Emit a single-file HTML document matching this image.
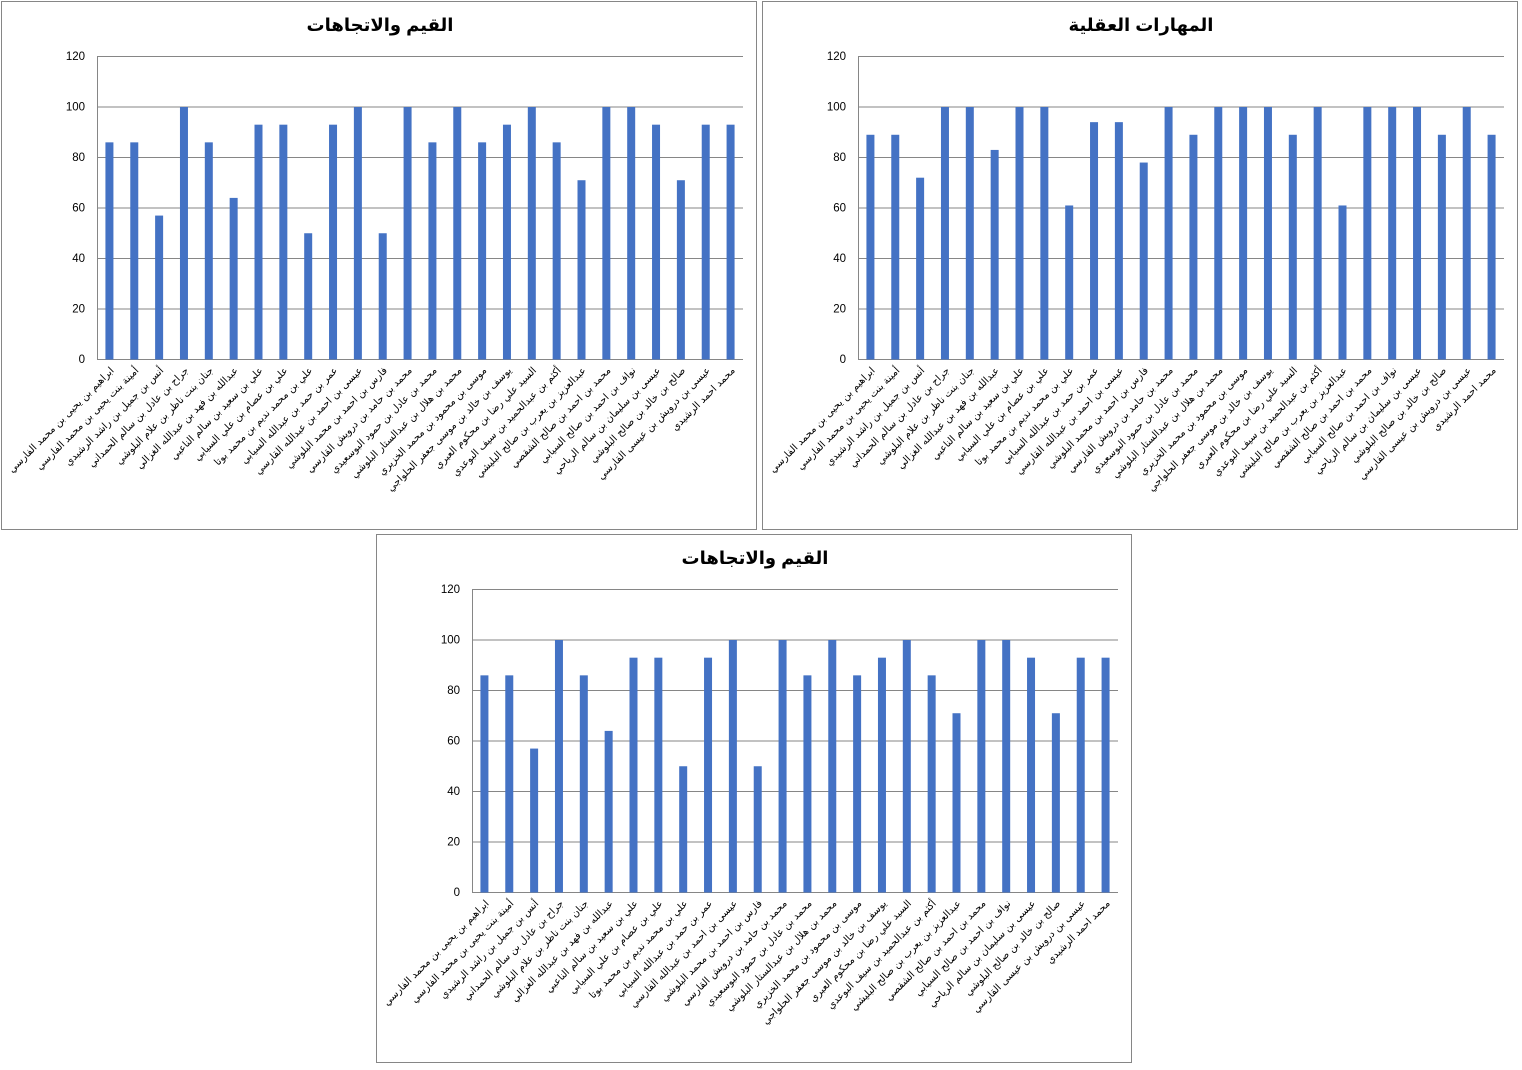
<!DOCTYPE html>
<html><head><meta charset="utf-8">
<style>
html,body{margin:0;padding:0;background:#fff;}
svg{display:block}
</style></head>
<body>
<svg id="s" width="1522" height="1070" xmlns="http://www.w3.org/2000/svg" font-family="'Liberation Sans', 'DejaVu Sans', sans-serif"></svg>
<script>
const names=["ابراهيم بن يحيى بن محمد الفارسي","أمينة بنت يحيى بن محمد الفارسي","أنس بن جميل بن راشد الرشيدي","جراح بن عادل بن سالم الحمداني","جنان بنت ناظر بن علام البلوشي","عبدالله بن فهد بن عبدالله الغزالي","علي بن سعيد بن سالم الناعبي","علي بن عصام بن علي السيابي","علي بن محمد نديم بن محمد بوتا","عمر بن حمد بن عبدالله السيابي","عيسى بن احمد بن عبدالله القارسي","فارس بن احمد بن محمد البلوشي","محمد بن حامد بن درويش القارسي","محمد بن عادل بن حمود البوسعيدي","محمد بن هلال بن عبدالستار البلوشي","موسى بن محمود بن محمد الخزيري","يوسف بن خالد بن موسى جعفر الحلواجي","السيد علي رضا بن محكوم العبري","أكثم بن عبدالحميد بن سيف البوعدي","عبدالعزيز بن يعرب بن صالح البليشي","محمد بن احمد بن صالح الشقصي","نواف بن احمد بن صالح السيابي","عيسى بن سليمان بن سالم الرياحي","صالح بن خالد بن صالح البلوشي","عيسى بن درويش بن عيسى القارسي","محمد احمد الرشيدي"];
const v1=[86,86,57,100,86,64,93,93,50,93,100,50,100,86,100,86,93,100,86,71,100,100,93,71,93,93];
const v2=[89,89,72,100,100,83,100,100,61,94,94,78,100,89,100,100,100,89,100,61,100,100,100,89,100,89];
let out="";
function chart(bx,by,title,vals){
  out+=`<rect x="${bx+0.5}" y="${by+0.5}" width="755" height="528" fill="#fff" stroke="#868686"/>`;
  out+=`<text x="${bx+379}" y="${by+30}" font-size="18" font-weight="bold" text-anchor="middle" font-family="'Liberation Sans','DejaVu Sans',sans-serif">${title}</text>`;
  const L=bx+96,R=bx+742,T=by+55,B=by+358;
  for(let i=0;i<=6;i++){
    const y=B-(B-T)*i/6;
    out+=`<line x1="${L}" x2="${R}" y1="${y+0.5}" y2="${y+0.5}" stroke="#868686"/>`;
    out+=`<text x="${bx+84}" y="${y+4}" font-size="11.5" text-anchor="end">${i*20}</text>`;
  }
  out+=`<line x1="${L+0.5}" x2="${L+0.5}" y1="${T}" y2="${B}" stroke="#868686"/>`;
  const step=(R-L)/26;
  vals.forEach((v,i)=>{
    const cx=L+step*(i+0.5);
    const h=(B-T)*v/120;
    out+=`<rect x="${cx-4}" y="${B-h+0.5}" width="8" height="${h}" fill="#4472C4"/>`;
    const tx=cx+5, ty=B+12;
    out+=`<text transform="translate(${tx},${ty}) rotate(-45)" x="0" y="0" font-size="10" direction="rtl" text-anchor="start" font-family="'DejaVu Sans',sans-serif">${names[i]}</text>`;
  });
}
chart(1,1,"القيم والاتجاهات",v1);
chart(762,1,"المهارات العقلية",v2);
chart(376,534,"القيم والاتجاهات",v1);
document.getElementById("s").innerHTML=out;
</script>
</body></html>
